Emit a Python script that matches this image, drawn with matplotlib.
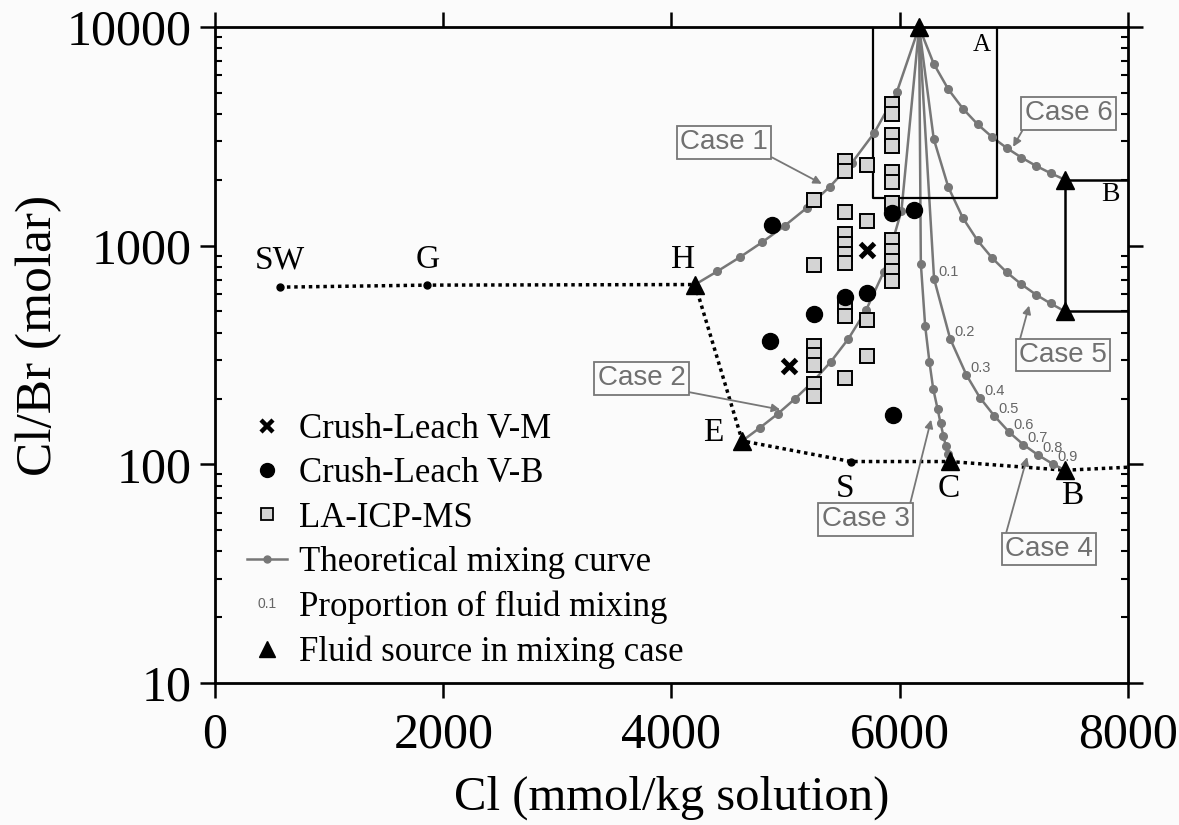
import matplotlib
matplotlib.use('Agg')
from matplotlib import pyplot as plt
from matplotlib.text import Text
from matplotlib.lines import Line2D
from matplotlib.legend_handler import HandlerBase
from matplotlib.ticker import FixedLocator, FixedFormatter, LogLocator, NullFormatter

plt.rcParams['font.family'] = ['Liberation Serif', 'DejaVu Serif']

# fluid end members (Cl mmol/kg, Cl/Br molar)
A = (6170, 10000)
H = (4207, 664)
E = (4620, 128)
C = (6440, 104)
B = (7450, 94)
B5 = (7450, 500)
B6 = (7450, 2000)

# seawater - evaporation trend (dotted)
trend_x = [566, 1858, 4207, 4620, 5571, 6440, 7450, 8000]
trend_y = [646, 660, 664, 128, 103, 103, 94, 97]
small_x = [566, 1858, 5571]
small_y = [646, 660, 103]

# mixing curves, dots at 0.1 .. 0.9
case1_x = [5974, 5777, 5581, 5385, 5188, 4992, 4796, 4600, 4403]
case1_y = [5025, 3281, 2393, 1854, 1492, 1233, 1038, 886, 764]
case2_x = [6015, 5860, 5705, 5550, 5395, 5240, 5085, 4930, 4775]
case2_y = [1444, 760, 507, 375, 294, 239, 200, 170, 147]
case3_x = [6185, 6223, 6260, 6293, 6332, 6358, 6383, 6404, 6424]
case3_y = [828, 429, 295, 222, 179, 154, 135, 121, 112]
case4_x = [6301, 6442, 6585, 6702, 6827, 6961, 7084, 7216, 7347]
case4_y = [705, 375, 256, 202, 167, 140, 123, 110, 100]
case5_x = [6298, 6426, 6554, 6682, 6810, 6938, 7066, 7194, 7322]
case5_y = [3079, 1850, 1337, 1056, 878, 755, 666, 597, 544]
case6_x = [6298, 6426, 6554, 6682, 6810, 6938, 7066, 7194, 7322]
case6_y = [6788, 5188, 4230, 3592, 3137, 2795, 2530, 2318, 2145]
props = ['0.1', '0.2', '0.3', '0.4', '0.5', '0.6', '0.7', '0.8', '0.9']

# measured inclusions
vm_x = [5031, 5712]
vm_y = [283, 960]
vb_x = [4879, 4864, 5250, 5522, 5712, 5930, 6127, 5945]
vb_y = [1247, 366, 489, 583, 608, 1410, 1460, 169]
la_x = ([5250] * 7 + [5522] * 10 + [5712] * 4 + [5930] * 12)
la_y = [1610, 818, 349, 316, 286, 234, 205,
        2430, 2190, 1430, 1135, 1021, 919, 835, 528, 476, 247,
        2330, 1300, 459, 312,
        4450, 3990, 3200, 2860, 2180, 1960, 1570, 1057, 942, 848, 763, 687]

box_x = [5764, 6851]
box_y = [1652, 10000]

case_names = ['Case 1', 'Case 2', 'Case 3', 'Case 4', 'Case 5', 'Case 6']
case_text_x = [4461, 3738, 5700, 7310, 7432, 7480]
case_text_y = [2969, 247, 56, 41, 316, 4028]
case_tip_x = [5317, 4952, 6275, 7117, 7134, 6994]
case_tip_y = [1919, 178, 160, 108, 532, 2831]
case_corner = [(1, 0), (1, 0), (1, 1), (0, 1), (0, 1), (0, 0)]

pt_labels = ['SW', 'G', 'H', 'E', 'S', 'C', 'B']
pt_lab_x = [570, 1866, 4100, 4370, 5522, 6430, 7508]
pt_lab_y = [860, 860, 860, 140, 77, 77, 72]

grey = '#777777'
fig = plt.figure(figsize=(11.79, 8.25), dpi=100, facecolor='#fbfbfb')
ax = fig.add_axes([0.1824, 0.1721, 0.7743, 0.7952])
ax.set_facecolor('#fbfbfb')
ax.set_yscale('log')
ax.set_xlim(0, 8000)
ax.set_ylim(10, 10000)

ax.plot(trend_x, trend_y, color='k', lw=2.5, ls=(0, (1, 1.1)), zorder=1)
ax.plot(small_x, small_y, 'o', color='k', ms=5, zorder=2)

for cx, cy, end in [(case1_x, case1_y, H), (case2_x, case2_y, E), (case3_x, case3_y, C),
                    (case4_x, case4_y, B), (case5_x, case5_y, B5), (case6_x, case6_y, B6)]:
    ax.plot([A[0]] + cx + [end[0]], [A[1]] + cy + [end[1]], '-', color=grey, lw=1.8, zorder=2)
    ax.plot(cx, cy, 'o', color=grey, ms=5.5, zorder=3)

for i in range(len(props)):
    ax.annotate(props[i], (case4_x[i], case4_y[i]), xytext=(3, 5), textcoords='offset points',
                ha='left', va='center', fontsize=10.5, color='#666666', family='Liberation Sans')

ax.plot([box_x[0], box_x[0], box_x[1], box_x[1]], [box_y[1], box_y[0], box_y[0], box_y[1]],
        color='k', lw=1.6, zorder=2)
ax.plot([B6[0], B5[0]], [B6[1], B5[1]], color='k', lw=1.8, zorder=2)
ax.plot([B6[0], 8000], [B6[1], B6[1]], color='k', lw=1.8, zorder=2)
ax.plot([B5[0], 8000], [B5[1], B5[1]], color='k', lw=1.8, zorder=2)

ax.plot(la_x, la_y, 's', ms=10.5, mfc='#d4d4d4', mec='k', mew=1.4, zorder=4)
ax.plot(vb_x, vb_y, 'o', ms=11.5, color='k', zorder=5)
ax.plot(vm_x, vm_y, 'x', ms=10, color='k', mew=3.6, zorder=5)

tri = [A, H, E, C, B, B5, B6]
ax.plot([t[0] for t in tri], [t[1] for t in tri], '^', ms=13, color='k', zorder=6, clip_on=False)

for i in range(len(pt_labels)):
    ax.text(pt_lab_x[i], pt_lab_y[i], pt_labels[i], ha='center', va='center', fontsize=24)
ax.text(6722, 8280, 'A', ha='center', va='center', fontsize=18)
ax.text(7844, 1710, 'B', ha='center', va='center', fontsize=20)

for i in range(len(case_names)):
    ax.annotate(case_names[i], (case_tip_x[i], case_tip_y[i]),
                xytext=(case_text_x[i], case_text_y[i]), textcoords='data',
                ha='center', va='center', fontsize=20, color='#707070', family='Liberation Sans',
                bbox=dict(boxstyle='square,pad=0.12', fc='#fbfbfb', ec=grey, lw=1.3),
                arrowprops=dict(arrowstyle='-|>', color=grey, lw=1.3, mutation_scale=12,
                                shrinkA=0, shrinkB=0, relpos=case_corner[i]),
                zorder=7)


class TextHandler(HandlerBase):
    def create_artists(self, legend, orig_handle, xdescent, ydescent, width, height, fontsize, trans):
        t = Text(width / 2 - xdescent, height / 2 - ydescent, orig_handle.get_text(),
                 ha='center', va='center', fontsize=10, color='#666666',
                 family='Liberation Sans', transform=trans)
        return [t]


handles = [Line2D([], [], ls='none', marker='x', ms=9, mew=3.2, color='k'),
           Line2D([], [], ls='none', marker='o', ms=10, color='k'),
           Line2D([], [], ls='none', marker='s', ms=8, mfc='#d4d4d4', mec='k', mew=1.3),
           Line2D([0, 1], [0, 0], color=grey, lw=1.8, marker='o', ms=5, markevery=[1]),
           Text(text='0.1'),
           Line2D([], [], ls='none', marker='^', ms=11, color='k')]
labels = ['Crush-Leach V-M', 'Crush-Leach V-B', 'LA-ICP-MS', 'Theoretical mixing curve',
          'Proportion of fluid mixing', 'Fluid source in mixing case']
ax.legend(handles, labels, loc='upper left', bbox_to_anchor=(0.035, 0.412), frameon=False,
          fontsize=25, handlelength=1.15, handletextpad=0.35, labelspacing=0.33,
          borderpad=0, borderaxespad=0, handler_map={Text: TextHandler()})

ax.xaxis.set_major_locator(FixedLocator([0, 2000, 4000, 6000, 8000]))
ax.yaxis.set_major_locator(FixedLocator([10, 100, 1000, 10000]))
ax.yaxis.set_major_formatter(FixedFormatter(['10', '100', '1000', '10000']))
ax.yaxis.set_minor_locator(LogLocator(base=10, subs=range(2, 10)))
ax.yaxis.set_minor_formatter(NullFormatter())
ax.tick_params(which='major', direction='out', length=11, width=1.8, labelsize=36,
               top=True, right=True, pad=6)
ax.tick_params(which='minor', direction='in', length=5, width=1.5, left=True, right=True)
ax.tick_params(axis='x', pad=10)
for s in ax.spines.values():
    s.set_linewidth(2)

ax.set_xlabel('Cl (mmol/kg solution)', fontsize=35, labelpad=12)
ax.set_ylabel('Cl/Br (molar)', fontsize=37)
ax.yaxis.set_label_coords(-0.168, 0.53)

fig.savefig('out.png', dpi=100, facecolor=fig.get_facecolor())
